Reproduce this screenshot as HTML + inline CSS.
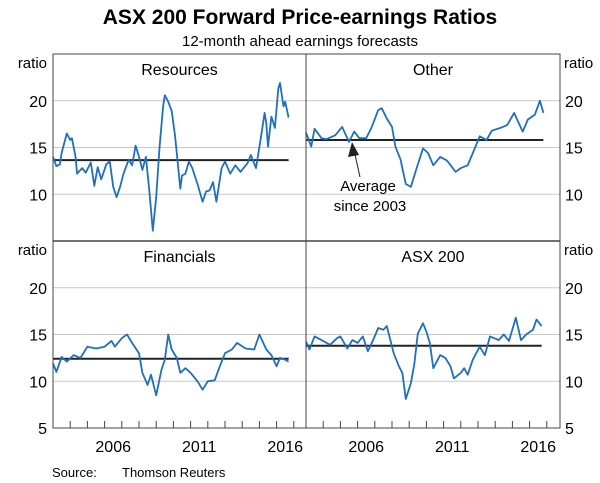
<!DOCTYPE html>
<html><head><meta charset="utf-8"><style>
body{margin:0;background:#fff;}
svg{display:block;font-family:"Liberation Sans",Arial,sans-serif;}
</style></head><body>
<svg id="c" width="600" height="483" viewBox="0 0 600 483">
<text x="300" y="24" text-anchor="middle" font-size="21" font-weight="bold">ASX 200 Forward Price-earnings Ratios</text>
<text x="300" y="46" text-anchor="middle" font-size="15">12-month ahead earnings forecasts</text>
<text x="52" y="477" font-size="13">Source:</text>
<text x="122" y="477" font-size="13">Thomson Reuters</text>
<g id="g"></g>
</svg>
<script>
const yTicks=[5,10,15,20];
const yearLabels=[2006,2011,2016];
const resYears=[2003.0,2003.2,2003.4,2003.5,2003.8,2004.0,2004.1,2004.3,2004.4,2004.7,2004.9,2005.2,2005.4,2005.6,2005.8,2006.1,2006.3,2006.5,2006.7,2006.9,2007.1,2007.4,2007.6,2007.8,2008.0,2008.2,2008.4,2008.6,2008.8,2009.0,2009.2,2009.4,2009.5,2009.7,2009.9,2010.1,2010.4,2010.5,2010.7,2010.9,2011.1,2011.4,2011.7,2011.9,2012.1,2012.3,2012.5,2012.8,2013.0,2013.3,2013.6,2013.9,2014.3,2014.5,2014.8,2015.1,2015.3,2015.4,2015.5,2015.7,2015.9,2016.1,2016.2,2016.4,2016.5,2016.7];
const resValues=[14.0,13.0,13.2,14.4,16.5,15.8,16.0,14.1,12.2,12.8,12.3,13.4,10.9,12.9,11.6,13.2,13.5,10.8,9.7,10.8,12.2,13.7,13.1,15.2,14.0,12.6,14.0,10.4,6.1,9.7,15.1,19.4,20.6,19.9,18.9,16.2,10.6,12.0,12.2,13.5,12.8,11.1,9.2,10.3,10.4,11.3,9.2,12.8,13.5,12.2,13.1,12.4,13.3,14.2,12.8,16.2,18.7,17.6,15.1,18.3,17.1,21.3,21.9,19.4,19.9,18.2];
const othYears=[2003.0,2003.3,2003.5,2003.9,2004.2,2004.7,2005.1,2005.5,2005.8,2006.1,2006.5,2006.8,2007.2,2007.4,2007.7,2008.0,2008.2,2008.5,2008.6,2008.8,2009.1,2009.4,2009.8,2010.1,2010.4,2010.8,2011.2,2011.7,2012.0,2012.4,2012.7,2013.1,2013.5,2013.8,2014.3,2014.7,2015.1,2015.6,2015.9,2016.3,2016.6,2016.8];
const othValues=[16.6,15.1,17.0,16.0,15.9,16.3,17.2,15.6,16.7,16.0,16.0,17.1,19.0,19.2,18.1,17.2,15.1,13.7,12.8,11.1,10.8,12.6,14.9,14.4,13.1,14.0,13.6,12.4,12.8,13.1,14.4,16.2,15.8,16.8,17.1,17.4,18.7,16.7,18.0,18.5,20.0,18.7];
const finYears=[2003.0,2003.2,2003.5,2003.8,2004.2,2004.6,2005.0,2005.5,2006.0,2006.4,2006.6,2007.0,2007.3,2007.6,2008.0,2008.2,2008.5,2008.7,2009.0,2009.3,2009.5,2009.7,2009.9,2010.2,2010.4,2010.7,2011.0,2011.4,2011.7,2012.0,2012.4,2012.7,2013.0,2013.4,2013.7,2014.2,2014.7,2015.0,2015.4,2015.7,2016.0,2016.2,2016.5,2016.7];
const finValues=[11.9,11.0,12.6,12.1,12.8,12.5,13.7,13.5,13.7,14.3,13.7,14.6,15.0,14.1,13.0,10.9,9.6,10.7,8.5,11.2,12.3,15.0,13.4,12.5,10.9,11.4,10.9,10.0,9.1,10.0,10.1,11.6,13.0,13.4,14.1,13.5,13.4,15.0,13.4,12.8,11.6,12.5,12.3,12.1];
const asxYears=[2003.0,2003.2,2003.5,2003.9,2004.4,2004.8,2005.0,2005.4,2005.7,2006.0,2006.3,2006.6,2006.9,2007.2,2007.5,2007.7,2008.1,2008.4,2008.6,2008.8,2009.1,2009.3,2009.5,2009.8,2010.0,2010.2,2010.4,2010.8,2011.1,2011.4,2011.6,2012.0,2012.2,2012.4,2012.7,2013.1,2013.4,2013.7,2014.2,2014.5,2014.8,2015.2,2015.5,2015.8,2016.2,2016.4,2016.7];
const asxValues=[14.25,13.4,14.8,14.4,13.9,14.6,14.8,13.5,14.4,14.1,14.8,13.2,14.4,15.7,15.5,15.9,13.0,11.6,10.9,8.1,9.8,11.9,15.1,16.2,15.3,14.1,11.4,12.8,12.5,11.6,10.3,10.9,11.4,10.7,12.3,13.7,12.8,14.8,14.4,15.0,14.3,16.8,14.4,15.0,15.5,16.6,15.9];
const averages=[13.65,15.8,12.4,13.8];
const titles=["Resources","Other","Financials","ASX 200"];
const NS="http://www.w3.org/2000/svg";
const g=document.getElementById('g');
function mk(t,a,parent){const e=document.createElementNS(NS,t);for(const k in a)e.setAttribute(k,a[k]);(parent||g).appendChild(e);return e;}
const L=53,M=306,R=560,T=54,MID=241,B=428,PX=17.2;
function xs(p,yr){return (p%2?M:L)+(yr-2003)*PX;}
function ys(p,v){const base=p<2?MID:B;return base-(v-5)*9.35;}
const series=[[resYears,resValues],[othYears,othValues],[finYears,finValues],[asxYears,asxValues]];
for(let p=0;p<4;p++){
  const x0=p%2?M:L,x1=p%2?R:M;
  for(const v of [10,15,20]){
    const gl=mk('line',{x1:x0,x2:x1,y1:ys(p,v),y2:ys(p,v),stroke:'#c8c8c8','stroke-width':1});
    
    
  }
  const tt=mk('text',{x:(x0+x1)/2,y:(p<2?T:MID)+21,'text-anchor':'middle','font-size':16});
  tt.textContent=titles[p];
  
  
  const [yrs,vals]=series[p];
  const al=mk('line',{x1:xs(p,yrs[0]),x2:xs(p,yrs[yrs.length-1]),y1:ys(p,averages[p]),y2:ys(p,averages[p]),stroke:'#222','stroke-width':2});
  
  
  const d=yrs.map((y,i)=>(i?'L':'M')+xs(p,y).toFixed(1)+','+ys(p,vals[i]).toFixed(1)).join('');
  const pl=mk('path',{d:d,fill:'none',stroke:'#1f6fbf','stroke-width':1.8,'stroke-linejoin':'round'});
  
  
}
const fr=mk('rect',{x:L,y:T,width:R-L,height:B-T,fill:'none',stroke:'#444','stroke-width':1});


const dv=mk('line',{x1:M,x2:M,y1:T,y2:B,stroke:'#444','stroke-width':1});


const dh=mk('line',{x1:L,x2:R,y1:MID,y2:MID,stroke:'#444','stroke-width':1.5});


for(let p=2;p<4;p++){
  for(let yr=2004;yr<=2017;yr++){
    const tk=mk('line',{x1:xs(p,yr),x2:xs(p,yr),y1:B,y2:B-7,stroke:'#444','stroke-width':1});
    
    
  }
  for(const yl of yearLabels){
    const t=mk('text',{x:xs(p,yl+0.5),y:452,'text-anchor':'middle','font-size':16});
    t.textContent=yl;
    
    
  }
}
for(let p=0;p<4;p+=2){
  for(const v of yTicks){
    if(p<2&&v===5)continue;
    const a=mk('text',{x:47,y:ys(p,v)+6,'text-anchor':'end','font-size':16});
    a.textContent=v;
    
    
    const b=mk('text',{x:565,y:ys(p,v)+6,'text-anchor':'start','font-size':16});
    b.textContent=v;
    
    
  }
  const base=p<2?T:MID;
  const r1=mk('text',{x:47,y:base+14,'text-anchor':'end','font-size':15});
  r1.textContent='ratio';
  
  
  const r2=mk('text',{x:564,y:base+14,'text-anchor':'start','font-size':15});
  r2.textContent='ratio';
  
  
}
const ar=mk('line',{x1:360,x2:354,y1:177,y2:150,stroke:'#222','stroke-width':1});


const ah=mk('polygon',{points:'352,142 348,157 359,155',fill:'#222'});


const a1=mk('text',{x:368,y:191,'text-anchor':'middle','font-size':15});
a1.textContent='Average';


const a2=mk('text',{x:370,y:211,'text-anchor':'middle','font-size':15});
a2.textContent='since 2003';


</script>
</body></html>
